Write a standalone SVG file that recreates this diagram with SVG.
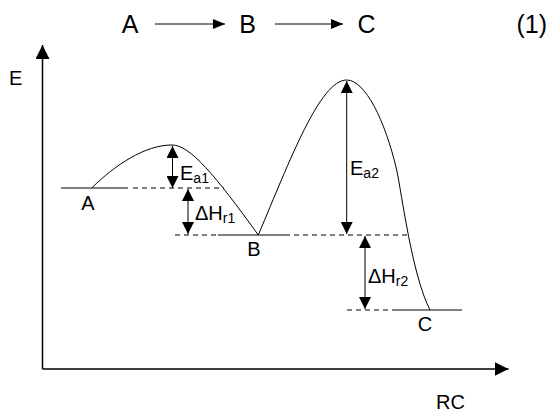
<svg xmlns="http://www.w3.org/2000/svg" width="550" height="409" viewBox="0 0 550 409">
<style>
text{font-family:"Liberation Sans",Arial,sans-serif;fill:#000}
.t{font-size:25px}
.l{font-size:20px}
.s{font-size:14px}
.ln{stroke:#000;stroke-width:1;fill:none}
.ax{stroke:#000;stroke-width:1.5;fill:none}
.d{stroke:#000;stroke-width:1;fill:none;stroke-dasharray:5,4}
</style>
<defs>
<marker id="ah" viewBox="0 0 12 12" refX="12" refY="6" markerWidth="12" markerHeight="12" markerUnits="userSpaceOnUse" orient="auto-start-reverse">
<path d="M0,0 L12,6 L0,12 Z" fill="#000"/>
</marker>
<marker id="ahs" viewBox="0 0 12 10" refX="12" refY="5" markerWidth="12" markerHeight="10" markerUnits="userSpaceOnUse" orient="auto">
<path d="M0,0 L12,5 L0,10 Z" fill="#000"/>
</marker>
<marker id="axh" viewBox="0 0 14 14" refX="14" refY="7" markerWidth="14" markerHeight="14" markerUnits="userSpaceOnUse" orient="auto">
<path d="M0,0 L14,7 L0,14 Z" fill="#000"/>
</marker>
</defs>
<g id="equation">
<text class="t" x="130" y="33" text-anchor="middle">A</text>
<text class="t" x="247.5" y="33" text-anchor="middle">B</text>
<text class="t" x="366.5" y="33" text-anchor="middle">C</text>
<text class="t" x="516.5" y="33">(1)</text>
</g>
<g id="axes">
<line class="ax" x1="42.5" y1="369" x2="42.5" y2="45" marker-end="url(#axh)"/>
<line class="ax" x1="42.5" y1="369" x2="508.5" y2="369" marker-end="url(#axh)"/>
<text class="l" x="9" y="85">E</text>
<text class="l" x="436" y="409">RC</text>
</g>
<g id="levels">
<line class="ln" x1="61" y1="188" x2="128" y2="188"/>
<line class="d" x1="133" y1="188" x2="224" y2="188"/>
<line class="d" x1="175" y1="235" x2="218" y2="235"/>
<line class="ln" x1="218" y1="235" x2="290" y2="235"/>
<line class="d" x1="294" y1="235" x2="407" y2="235"/>
<line class="d" x1="347" y1="310" x2="397" y2="310"/>
<line class="ln" x1="397" y1="310" x2="462" y2="310"/>
</g>
<g id="curve">
<path class="ln" d="M91.7,188 C115,165 145,145 172,145 C190,145 215,175 258.3,235 C290,160 320,80 346.7,80 C365,80 385,120 396.7,170 C402,195 412,275 430,310"/>
</g>
<g id="state-labels">
<text class="l" x="88" y="210" text-anchor="middle">A</text>
<text class="l" x="254" y="256" text-anchor="middle">B</text>
<text class="l" x="425" y="331" text-anchor="middle">C</text>
</g>
<g id="connectors">
<line class="ln" x1="155" y1="24" x2="225" y2="24" marker-end="url(#ahs)"/>
<line class="ln" x1="275" y1="24" x2="343" y2="24" marker-end="url(#ahs)"/>
<line class="ln" x1="172.5" y1="146" x2="172.5" y2="188" marker-start="url(#ah)" marker-end="url(#ah)"/>
<line class="ln" x1="188" y1="189" x2="188" y2="234" marker-start="url(#ah)" marker-end="url(#ah)"/>
<line class="ln" x1="346.7" y1="81" x2="346.7" y2="234" marker-start="url(#ah)" marker-end="url(#ah)"/>
<line class="ln" x1="365" y1="236" x2="365" y2="309" marker-start="url(#ah)" marker-end="url(#ah)"/>
</g>
<g id="energy-labels">
<text class="l" x="180" y="180">E<tspan class="s" dy="3">a1</tspan></text>
<text class="l" x="195" y="220">ΔH<tspan class="s" dy="3">r1</tspan></text>
<text class="l" x="350" y="175">E<tspan class="s" dy="3">a2</tspan></text>
<text class="l" x="368" y="283">ΔH<tspan class="s" dy="3">r2</tspan></text>
</g>
</svg>
